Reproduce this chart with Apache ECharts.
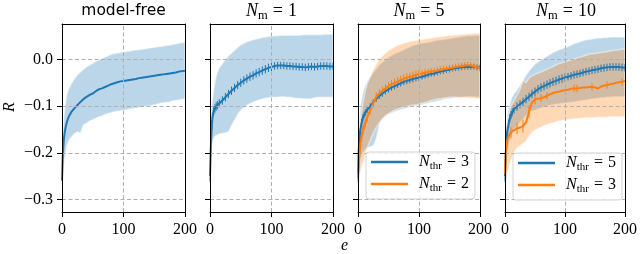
<!DOCTYPE html>
<html><head><meta charset="utf-8">
<script src="https://cdn.jsdelivr.net/npm/echarts@6/dist/echarts.min.js"></script>
<style>html,body{margin:0;padding:0;background:#fff}#c{width:640px;height:254px}</style>
</head><body><div id="c"></div>
<script>
// ---------- data ----------
const episodes = [0,1,2,3,4,6,8,10,12,15,20,25,30,35,40,45,50,55,60,65,70,75,80,85,90,95,100,105,110,115,120,125,130,135,140,145,150,155,160,165,170,175,180,185,190,195,200];
const xTicks = [0,100,200];
const yTicks = [-0.3,-0.2,-0.1,0.0];

// model-free
const mfMean  = [-0.26,-0.215,-0.19,-0.172,-0.16,-0.145,-0.134,-0.126,-0.12,-0.113,-0.105,-0.098,-0.091,-0.085,-0.080,-0.076,-0.073,-0.068,-0.064,-0.062,-0.059,-0.056,-0.053,-0.051,-0.049,-0.047,-0.046,-0.045,-0.044,-0.043,-0.042,-0.040,-0.039,-0.038,-0.037,-0.036,-0.035,-0.034,-0.033,-0.032,-0.031,-0.030,-0.029,-0.028,-0.026,-0.025,-0.024];
const mfUpper = [-0.21,-0.17,-0.14,-0.125,-0.11,-0.09,-0.075,-0.066,-0.06,-0.052,-0.042,-0.033,-0.027,-0.021,-0.016,-0.012,-0.008,-0.004,-0.001,0.002,0.005,0.008,0.011,0.013,0.014,0.015,0.016,0.017,0.018,0.019,0.020,0.021,0.022,0.023,0.024,0.025,0.026,0.027,0.028,0.029,0.030,0.031,0.032,0.033,0.035,0.036,0.037];
const mfLower = [-0.31,-0.27,-0.245,-0.23,-0.215,-0.2,-0.185,-0.178,-0.172,-0.167,-0.16,-0.155,-0.158,-0.14,-0.137,-0.132,-0.129,-0.126,-0.123,-0.121,-0.118,-0.116,-0.114,-0.112,-0.111,-0.110,-0.109,-0.108,-0.106,-0.105,-0.104,-0.103,-0.102,-0.101,-0.100,-0.099,-0.097,-0.096,-0.094,-0.093,-0.092,-0.091,-0.089,-0.088,-0.087,-0.086,-0.085];

// N_m = 1
const m1Mean  = [-0.25,-0.2,-0.17,-0.14,-0.125,-0.11,-0.105,-0.101,-0.098,-0.094,-0.088,-0.081,-0.074,-0.067,-0.061,-0.055,-0.050,-0.045,-0.041,-0.037,-0.034,-0.030,-0.027,-0.024,-0.021,-0.018,-0.016,-0.014,-0.013,-0.013,-0.013,-0.014,-0.014,-0.015,-0.015,-0.016,-0.016,-0.017,-0.016,-0.015,-0.016,-0.015,-0.014,-0.014,-0.014,-0.015,-0.015];
const m1Upper = [-0.2,-0.15,-0.12,-0.1,-0.085,-0.065,-0.048,-0.036,-0.028,-0.018,-0.009,0.0,0.008,0.014,0.020,0.026,0.031,0.035,0.038,0.040,0.042,0.044,0.045,0.047,0.048,0.049,0.050,0.051,0.051,0.052,0.052,0.052,0.052,0.052,0.052,0.052,0.053,0.053,0.053,0.053,0.053,0.053,0.053,0.054,0.054,0.054,0.054];
const m1Lower = [-0.3,-0.25,-0.21,-0.19,-0.175,-0.168,-0.165,-0.163,-0.162,-0.16,-0.158,-0.157,-0.155,-0.142,-0.130,-0.118,-0.109,-0.103,-0.098,-0.095,-0.092,-0.089,-0.087,-0.085,-0.083,-0.082,-0.081,-0.081,-0.081,-0.080,-0.080,-0.081,-0.081,-0.082,-0.083,-0.083,-0.084,-0.084,-0.085,-0.084,-0.082,-0.081,-0.081,-0.081,-0.081,-0.081,-0.081];
const m1Err   = [0.012,0.012,0.012,0.01,0.01,0.009,0.009,0.009,0.009,0.009,0.009,0.009,0.009,0.009,0.009,0.009,0.009,0.009,0.009,0.009,0.009,0.009,0.009,0.009,0.009,0.009,0.009,0.008,0.008,0.008,0.008,0.008,0.008,0.008,0.008,0.008,0.008,0.008,0.008,0.008,0.008,0.008,0.008,0.008,0.008,0.008,0.008];

// N_m = 5 : N_thr = 3 (blue), N_thr = 2 (orange)
const m5t3Mean  = [-0.245,-0.2,-0.175,-0.16,-0.15,-0.135,-0.125,-0.119,-0.114,-0.108,-0.101,-0.092,-0.084,-0.078,-0.073,-0.068,-0.064,-0.060,-0.057,-0.054,-0.051,-0.048,-0.046,-0.044,-0.042,-0.040,-0.039,-0.037,-0.035,-0.033,-0.031,-0.030,-0.028,-0.026,-0.025,-0.023,-0.022,-0.020,-0.019,-0.018,-0.017,-0.016,-0.016,-0.016,-0.016,-0.017,-0.017];
const m5t3Upper = [-0.2,-0.16,-0.135,-0.115,-0.1,-0.085,-0.072,-0.062,-0.055,-0.047,-0.037,-0.028,-0.02,-0.012,-0.006,0.0,0.005,0.009,0.012,0.015,0.018,0.021,0.024,0.027,0.030,0.032,0.034,0.035,0.036,0.037,0.038,0.040,0.041,0.042,0.043,0.044,0.045,0.046,0.047,0.048,0.049,0.050,0.051,0.051,0.052,0.052,0.052];
const m5t3Lower = [-0.3,-0.26,-0.24,-0.225,-0.215,-0.205,-0.2,-0.196,-0.192,-0.19,-0.187,-0.185,-0.17,-0.14,-0.128,-0.122,-0.118,-0.115,-0.112,-0.110,-0.108,-0.106,-0.104,-0.102,-0.101,-0.100,-0.099,-0.097,-0.095,-0.094,-0.092,-0.091,-0.089,-0.088,-0.086,-0.085,-0.084,-0.083,-0.082,-0.081,-0.081,-0.080,-0.080,-0.080,-0.080,-0.081,-0.081];
const m5t3Err   = [0.01,0.01,0.01,0.008,0.008,0.008,0.007,0.007,0.007,0.007,0.007,0.007,0.007,0.007,0.007,0.007,0.007,0.007,0.007,0.007,0.007,0.007,0.007,0.007,0.007,0.007,0.007,0.006,0.006,0.006,0.006,0.006,0.006,0.006,0.006,0.006,0.006,0.006,0.006,0.006,0.006,0.006,0.006,0.006,0.006,0.006,0.006];
const m5t2Mean  = [-0.25,-0.23,-0.21,-0.195,-0.18,-0.165,-0.152,-0.143,-0.137,-0.125,-0.109,-0.094,-0.080,-0.073,-0.067,-0.062,-0.057,-0.053,-0.050,-0.047,-0.044,-0.041,-0.039,-0.037,-0.035,-0.033,-0.031,-0.030,-0.028,-0.027,-0.026,-0.025,-0.024,-0.022,-0.021,-0.020,-0.019,-0.018,-0.016,-0.015,-0.014,-0.013,-0.012,-0.013,-0.015,-0.017,-0.019];
const m5t2Upper = [-0.22,-0.19,-0.165,-0.145,-0.13,-0.11,-0.095,-0.08,-0.068,-0.052,-0.037,-0.022,-0.01,0.001,0.008,0.014,0.019,0.023,0.027,0.030,0.033,0.035,0.037,0.039,0.040,0.041,0.042,0.043,0.044,0.045,0.046,0.047,0.048,0.049,0.050,0.051,0.052,0.052,0.053,0.053,0.054,0.054,0.055,0.055,0.056,0.056,0.056];
const m5t2Lower = [-0.3,-0.28,-0.265,-0.25,-0.24,-0.23,-0.222,-0.216,-0.205,-0.19,-0.173,-0.158,-0.145,-0.135,-0.127,-0.121,-0.116,-0.112,-0.109,-0.106,-0.104,-0.102,-0.100,-0.099,-0.098,-0.097,-0.096,-0.094,-0.092,-0.090,-0.088,-0.086,-0.085,-0.084,-0.083,-0.082,-0.081,-0.081,-0.081,-0.082,-0.082,-0.082,-0.082,-0.083,-0.083,-0.084,-0.084];
const m5t2Err   = [0.012,0.012,0.012,0.01,0.01,0.01,0.009,0.009,0.009,0.009,0.009,0.009,0.009,0.009,0.009,0.009,0.009,0.009,0.009,0.009,0.009,0.009,0.009,0.009,0.009,0.009,0.009,0.007,0.007,0.007,0.007,0.007,0.007,0.007,0.007,0.007,0.007,0.007,0.007,0.007,0.007,0.007,0.007,0.007,0.007,0.007,0.007];

// N_m = 10 : N_thr = 5 (blue), N_thr = 3 (orange)
const m10t5Mean  = [-0.25,-0.21,-0.185,-0.165,-0.153,-0.138,-0.126,-0.119,-0.113,-0.107,-0.101,-0.096,-0.091,-0.085,-0.080,-0.074,-0.069,-0.064,-0.060,-0.057,-0.054,-0.051,-0.048,-0.046,-0.043,-0.041,-0.039,-0.037,-0.035,-0.033,-0.0315,-0.030,-0.028,-0.026,-0.025,-0.023,-0.022,-0.021,-0.019,-0.018,-0.017,-0.016,-0.016,-0.016,-0.016,-0.017,-0.018];
const m10t5Upper = [-0.2,-0.17,-0.15,-0.135,-0.12,-0.105,-0.095,-0.087,-0.08,-0.073,-0.066,-0.055,-0.045,-0.034,-0.025,-0.017,-0.010,-0.005,-0.001,0.003,0.007,0.011,0.015,0.018,0.021,0.023,0.025,0.028,0.031,0.034,0.036,0.038,0.040,0.042,0.043,0.044,0.045,0.046,0.046,0.047,0.047,0.048,0.048,0.048,0.048,0.048,0.048];
const m10t5Lower = [-0.3,-0.26,-0.235,-0.215,-0.2,-0.185,-0.175,-0.165,-0.158,-0.15,-0.144,-0.135,-0.128,-0.12,-0.114,-0.111,-0.109,-0.106,-0.104,-0.102,-0.100,-0.098,-0.097,-0.096,-0.095,-0.094,-0.094,-0.093,-0.092,-0.091,-0.090,-0.089,-0.088,-0.087,-0.086,-0.085,-0.084,-0.083,-0.082,-0.082,-0.081,-0.081,-0.080,-0.080,-0.080,-0.080,-0.080];
const m10t5Err   = [0.012,0.012,0.01,0.01,0.009,0.009,0.009,0.009,0.009,0.009,0.009,0.009,0.009,0.009,0.009,0.009,0.009,0.009,0.009,0.009,0.009,0.009,0.009,0.009,0.009,0.009,0.009,0.008,0.008,0.008,0.008,0.008,0.008,0.008,0.008,0.008,0.008,0.008,0.008,0.008,0.008,0.008,0.008,0.008,0.008,0.008,0.008];
const m10t3Mean  = [-0.245,-0.21,-0.19,-0.178,-0.172,-0.165,-0.16,-0.157,-0.154,-0.151,-0.148,-0.146,-0.143,-0.135,-0.112,-0.092,-0.086,-0.084,-0.083,-0.081,-0.078,-0.075,-0.072,-0.070,-0.069,-0.067,-0.066,-0.065,-0.063,-0.062,-0.062,-0.061,-0.060,-0.060,-0.059,-0.059,-0.060,-0.062,-0.058,-0.056,-0.055,-0.053,-0.052,-0.050,-0.049,-0.048,-0.046];
const m10t3Upper = [-0.21,-0.18,-0.16,-0.145,-0.135,-0.122,-0.11,-0.101,-0.095,-0.088,-0.077,-0.065,-0.045,-0.05,-0.04,-0.035,-0.032,-0.029,-0.027,-0.024,-0.021,-0.018,-0.015,-0.012,-0.009,-0.007,-0.005,-0.003,-0.001,0.001,0.003,0.005,0.007,0.009,0.011,0.012,0.013,0.014,0.015,0.016,0.017,0.018,0.019,0.020,0.021,0.022,0.023];
const m10t3Lower = [-0.31,-0.29,-0.27,-0.255,-0.245,-0.235,-0.225,-0.215,-0.208,-0.2,-0.19,-0.185,-0.18,-0.175,-0.165,-0.157,-0.152,-0.148,-0.145,-0.142,-0.140,-0.138,-0.136,-0.134,-0.132,-0.131,-0.130,-0.129,-0.128,-0.127,-0.127,-0.126,-0.126,-0.125,-0.125,-0.125,-0.125,-0.124,-0.124,-0.124,-0.124,-0.123,-0.123,-0.123,-0.123,-0.123,-0.123];
const m10t3Err   = [0,0,0,0,0,0,0,0.012,0,0,0.012,0,0.014,0,0.014,0,0.01,0,0.008,0,0.008,0,0,0,0,0,0,0,0,0.008,0.008,0,0,0,0,0.008,0,0,0,0,0.008,0,0,0,0,0.008,0];

const panelTitles = ['model-free', '1', '5', '10'];   // N_m values for panels 2-4
const legendValues = [null, null, ['3','2'], ['5','3']]; // N_thr values

// ---------- layout / style ----------
const BLUE = '#1f77b4', ORANGE = '#ff7f0e';
const BAND = {[BLUE]: 'rgba(31,119,180,0.30)', [ORANGE]: 'rgba(255,127,14,0.30)'};
const SERIF = 'Liberation Serif';
const GTOP = 24, GH = 188;
const Y_MIN = -0.327, Y_MAX = 0.076;

const panels = [
  {left: 62,  width: 123, lines: [{key:'mf', mean: mfMean, upper: mfUpper, lower: mfLower, err: null, color: BLUE}]},
  {left: 210, width: 123, lines: [{key:'m1', mean: m1Mean, upper: m1Upper, lower: m1Lower, err: m1Err, color: BLUE}]},
  {left: 358, width: 122, legend: {left: 366, top: 152}, lines: [
     {key:'m5t3', mean: m5t3Mean, upper: m5t3Upper, lower: m5t3Lower, err: m5t3Err, color: BLUE},
     {key:'m5t2', mean: m5t2Mean, upper: m5t2Upper, lower: m5t2Lower, err: m5t2Err, color: ORANGE}]},
  {left: 505, width: 122, legend: {left: 513, top: 153}, lines: [
     {key:'m10t5', mean: m10t5Mean, upper: m10t5Upper, lower: m10t5Lower, err: m10t5Err, color: BLUE},
     {key:'m10t3', mean: m10t3Mean, upper: m10t3Upper, lower: m10t3Lower, err: m10t3Err, color: ORANGE}]}
];

const axisLineStyle = {color: '#000', width: 1};
const tickLabelStyle = {color: '#000', fontFamily: SERIF, fontSize: 16};
const fmtY = v => (Math.abs(v) < 1e-9 ? '0.0' : (v < 0 ? '\u2212' : '') + Math.abs(v).toFixed(1));

const grid = [], xAxis = [], yAxis = [], series = [], legend = [], graphic = [];

panels.forEach((p, gi) => {
  grid.push({left: p.left, top: GTOP, width: p.width, height: GH, containLabel: false});
  const xi = xAxis.length;
  xAxis.push({gridIndex: gi, type: 'value', min: xTicks[0], max: xTicks[xTicks.length-1], interval: 100, position: 'bottom', z: 10,
    axisLine: {onZero: false, lineStyle: axisLineStyle},
    axisTick: {show: true, length: 5, lineStyle: axisLineStyle},
    axisLabel: Object.assign({margin: 10, showMinLabel: true, showMaxLabel: true, hideOverlap: false}, tickLabelStyle),
    splitLine: {show: false}});
  xAxis.push({gridIndex: gi, type: 'value', min: xTicks[0], max: xTicks[xTicks.length-1], position: 'top', z: 10,
    axisLine: {onZero: false, lineStyle: axisLineStyle}, axisTick: {show: false}, axisLabel: {show: false}, splitLine: {show: false}});
  const yi = yAxis.length;
  yAxis.push({gridIndex: gi, type: 'value', min: Y_MIN, max: Y_MAX, position: 'left', z: 10,
    axisLine: {onZero: false, lineStyle: axisLineStyle},
    axisTick: {show: true, length: 5, lineStyle: axisLineStyle, customValues: yTicks},
    axisLabel: Object.assign({show: gi === 0, margin: 9, customValues: yTicks, formatter: fmtY}, tickLabelStyle),
    splitLine: {show: false}});
  yAxis.push({gridIndex: gi, type: 'value', min: Y_MIN, max: Y_MAX, position: 'right', z: 10,
    axisLine: {onZero: false, lineStyle: axisLineStyle}, axisTick: {show: false}, axisLabel: {show: false}, splitLine: {show: false}});

  // bands
  p.lines.forEach(s => {
    const up = s.upper, lo = s.lower;
    series.push({type: 'custom', name: s.key + '_band', xAxisIndex: xi, yAxisIndex: yi, z: 1, silent: true,
      data: episodes.map((e, k) => [e, lo[k], up[k]]), encode: {x: 0, y: [1, 2]},
      renderItem(params, api) {
        if (params.dataIndex !== 0) return null;
        const pts = [];
        for (let k = 0; k < episodes.length; k++) pts.push(api.coord([episodes[k], up[k]]));
        for (let k = episodes.length - 1; k >= 0; k--) pts.push(api.coord([episodes[k], lo[k]]));
        return {type: 'polygon', shape: {points: pts}, style: {fill: BAND[s.color], stroke: 'rgba(255,255,255,0.45)', lineWidth: 1.5}};
      }});
  });
  // grid lines (above bands, below lines)
  series.push({type: 'line', name: 'grid' + gi, xAxisIndex: xi, yAxisIndex: yi, z: 2, silent: true,
    data: episodes.map((e, k) => [e, p.lines[0].mean[k]]), showSymbol: false, symbol: 'none', lineStyle: {opacity: 0},
    markLine: {silent: true, symbol: ['none', 'none'], label: {show: false}, animation: false,
      lineStyle: {color: '#b0b0b0', type: [4, 2.5], width: 1},
      data: yTicks.map(v => ({yAxis: v})).concat([{xAxis: xTicks[1]}])}});
  // mean lines + error bars
  p.lines.forEach(s => {
    series.push({type: 'line', name: s.key, xAxisIndex: xi, yAxisIndex: yi, z: 3, silent: true,
      data: episodes.map((e, k) => [e, s.mean[k]]), showSymbol: false, symbol: 'none',
      color: s.color, itemStyle: {color: s.color}, lineStyle: {color: s.color, width: 2}});
    if (s.err) {
      series.push({type: 'custom', name: s.key + '_err', xAxisIndex: xi, yAxisIndex: yi, z: 3, silent: true,
        data: episodes.map((e, k) => [e, s.mean[k], s.err[k]]), encode: {x: 0, y: 1},
        renderItem(params, api) {
          const e = api.value(0), m = api.value(1), d = api.value(2);
          if (!d) return null;
          const a = api.coord([e, m - d]), b = api.coord([e, m + d]);
          return {type: 'line', shape: {x1: a[0], y1: a[1], x2: b[0], y2: b[1]}, style: {stroke: s.color, lineWidth: 1}};
        }});
    }
  });
  // legend
  if (p.legend) {
    const labels = {};
    p.lines.forEach((s, j) => { labels[s.key] = legendValues[gi][j]; });
    legend.push({show: true, orient: 'vertical', left: p.legend.left, top: p.legend.top, z: 20,
      data: p.lines.map(s => s.key), icon: 'rect', itemWidth: 37, itemHeight: 2.5, itemGap: 4,
      padding: [2, 6, 5, 5], backgroundColor: 'rgba(255,255,255,0.8)', borderColor: '#d3d3d3', borderWidth: 1, borderRadius: 3,
      selectedMode: false,
      formatter: name => '{n|N}{s|thr}{q|=}{v|' + labels[name] + '}',
      textStyle: {color: '#000', fontFamily: SERIF, fontSize: 16, rich: {
        n: {color: '#000', fontFamily: SERIF, fontStyle: 'italic', fontSize: 16, lineHeight: 20, padding: [0, 0, 0, 6]},
        s: {color: '#000', fontFamily: SERIF, fontSize: 11, lineHeight: 12, verticalAlign: 'bottom'},
        q: {color: '#000', fontFamily: SERIF, fontSize: 16, lineHeight: 20, padding: [0, 5, 0, 5]},
        v: {color: '#000', fontFamily: SERIF, fontSize: 16, lineHeight: 20}}}});
  }
  // title
  const cx = p.left + p.width / 2;
  if (gi === 0) {
    graphic.push({type: 'text', x: cx, y: 11, style: {text: panelTitles[0], fill: '#000', font: '15.5px "DejaVu Sans"',
      align: 'center', verticalAlign: 'middle', textAlign: 'center', textVerticalAlign: 'middle'}});
  } else {
    graphic.push({type: 'text', x: cx, y: 11, style: {text: '{n|N}{s|m}{q|=}{v|' + panelTitles[gi] + '}', fill: '#000',
      align: 'center', verticalAlign: 'middle', textAlign: 'center', textVerticalAlign: 'middle',
      rich: {
        n: {fill: '#000', fontFamily: SERIF, fontStyle: 'italic', fontSize: 18, lineHeight: 22},
        s: {fill: '#000', fontFamily: SERIF, fontSize: 12.5, lineHeight: 13, verticalAlign: 'bottom'},
        q: {fill: '#000', fontFamily: SERIF, fontSize: 18, lineHeight: 22, padding: [0, 5, 0, 5]},
        v: {fill: '#000', fontFamily: SERIF, fontSize: 18, lineHeight: 22}}}});
  }
});

// axis titles
graphic.push({type: 'text', x: 10, y: 107, rotation: Math.PI / 2, style: {text: 'R', fill: '#000', font: 'italic 16px "Liberation Serif"',
  align: 'center', verticalAlign: 'middle', textAlign: 'center', textVerticalAlign: 'middle'}});
graphic.push({type: 'text', x: 344.5, y: 246, style: {text: 'e', fill: '#000', font: 'italic 16px "Liberation Serif"',
  align: 'center', verticalAlign: 'middle', textAlign: 'center', textVerticalAlign: 'middle'}});

const chart = echarts.init(document.getElementById('c'), null, {renderer: 'canvas'});
chart.setOption({animation: false, backgroundColor: '#fff', grid, xAxis, yAxis, series, legend, graphic});
</script></body></html>
